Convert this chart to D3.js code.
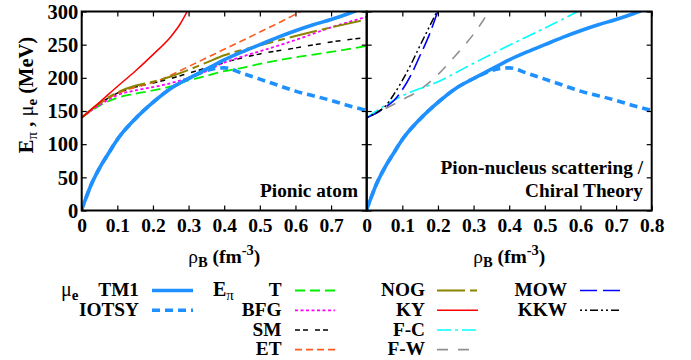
<!DOCTYPE html>
<html><head><meta charset="utf-8">
<script src="https://cdn.jsdelivr.net/npm/d3@7"></script>
</head>
<body style="margin:0;background:#fff"><svg id="c" width="691" height="360"></svg>
<script>
// ---- data ----
const xTicksLeft = [0,0.1,0.2,0.3,0.4,0.5,0.6,0.7];
const xTicksRight = [0,0.1,0.2,0.3,0.4,0.5,0.6,0.7,0.8];
const yTicks = [0,50,100,150,200,250,300];

const rhoTM1 = [0,0.002,0.005,0.01,0.025,0.05,0.075,0.1,0.15,0.2,0.25,0.3,0.35,0.4,0.45,0.5,0.55,0.6,0.65,0.7,0.75,0.77];
const muTM1  = [0,5,9,16,37,64,86,107,138,163,184,199,213,227,239,250,261,271,280,288,297,301];
const rhoIOTSY = [0,0.002,0.005,0.01,0.025,0.05,0.075,0.1,0.15,0.2,0.25,0.3,0.35,0.4,0.45,0.5,0.55,0.6,0.65,0.7,0.75,0.8];
const muIOTSY  = [0,5,9,16,37,64,86,107,138,163,184,199,211,215,207,198,189,180,173,166,158,151];

const rhoA = [0,0.05,0.1,0.15,0.2,0.25,0.3,0.35,0.4,0.45,0.5,0.6,0.7,0.8];
const eT   = [140,158,170,176,181,187,196,203,210,215,221,231,239,248];
const eBFG = [140,159,174,181,186,192,200,210,223,232,240,257,276,292];
const eSM  = [140,161,177,186,192,199,207,215,223,230,236,245,254,261];
const eNOG = [140,162,178,188,194,202,212,223,234,242,249,263,276,288];
const rhoET = [0,0.05,0.1,0.15,0.2,0.25,0.3,0.35,0.4,0.5,0.6,0.62];
const eET   = [140,161,176,186,193,204,217,230,243,269,296,302];
const rhoKY = [0,0.05,0.1,0.15,0.2,0.25,0.275,0.3];
const eKY   = [140,163,187,210,235,262,280,304];

const rhoFC = [0,0.05,0.1,0.2,0.3,0.4,0.5,0.6];
const eFC   = [140,158,173,194,222,249,275,302];
const rhoFW = [0,0.05,0.1,0.15,0.2,0.25,0.3,0.325,0.345];
const eFW   = [140,153,167,182,205,234,266,285,302];
const rhoMOW = [0,0.025,0.05,0.075,0.1,0.125,0.15,0.175,0.2];
const eMOW   = [140,146,155,165,182,205,234,264,301];
const rhoKKW = [0,0.025,0.05,0.075,0.1,0.125,0.15,0.175,0.2];
const eKKW   = [140,147,156,174,196,221,249,276,303];

// ---- layout ----
const FF = "Liberation Serif";
const svg = d3.select("#c");
const X0 = 81.7, XM = 366.7, X1 = 651.7, YT = 11.5, YB = 210.5;
const y = d3.scaleLinear().domain([0,300]).range([YB,YT]);
const xL = d3.scaleLinear().domain([0,0.8]).range([X0,XM]);
const xR = d3.scaleLinear().domain([0,0.8]).range([XM,X1]);

function T(sel){ return sel.attr("font-family",FF).attr("font-weight","bold").attr("fill","#000"); }

const styles = {
  TM1:{c:"#1e90ff",w:3.6,d:null},
  IOTSY:{c:"#1e90ff",w:3.6,d:"8,5"},
  T:{c:"#00f000",w:1.8,d:"10,5"},
  BFG:{c:"#ff00ff",w:1.8,d:"3,2.5"},
  SM:{c:"#000",w:1.5,d:"5,3,5,7"},
  ET:{c:"#ff5a1e",w:1.6,d:"7,4"},
  NOG:{c:"#8a8400",w:2,d:"28,5,7,5"},
  KY:{c:"#ff0000",w:1.5,d:null},
  FC:{c:"#00ffff",w:1.6,d:"14,4,3,4"},
  FW:{c:"#909090",w:1.6,d:"11,10"},
  MOW:{c:"#0000ff",w:1.6,d:"17,6"},
  KKW:{c:"#000",w:1.5,d:"2,3,2,3,8,3"}
};

const defs = svg.append("defs");
defs.append("clipPath").attr("id","cl").append("rect").attr("x",X0).attr("y",YT).attr("width",XM-X0).attr("height",YB-YT);
defs.append("clipPath").attr("id","cr").append("rect").attr("x",XM).attr("y",YT).attr("width",X1-XM).attr("height",YB-YT);

function drawSeries(g, xs, rho, vals, st){
  const data = rho.map((r,i)=>[r,vals[i]]);
  const line = d3.line().x(d=>xs(d[0])).y(d=>y(d[1])).curve(d3.curveMonotoneX);
  g.append("path").datum(data).attr("d",line).attr("fill","none")
    .attr("stroke",st.c).attr("stroke-width",st.w)
    .attr("stroke-dasharray",st.d).attr("stroke-linejoin","round");
}

const gL = svg.append("g").attr("clip-path","url(#cl)");
drawSeries(gL,xL,rhoA,eT,styles.T);
drawSeries(gL,xL,rhoA,eSM,styles.SM);
drawSeries(gL,xL,rhoA,eBFG,styles.BFG);
drawSeries(gL,xL,rhoET,eET,styles.ET);
drawSeries(gL,xL,rhoA,eNOG,styles.NOG);
drawSeries(gL,xL,rhoKY,eKY,styles.KY);
drawSeries(gL,xL,rhoIOTSY,muIOTSY,styles.IOTSY);
drawSeries(gL,xL,rhoTM1,muTM1,styles.TM1);

const gR = svg.append("g").attr("clip-path","url(#cr)");
drawSeries(gR,xR,rhoFW,eFW,styles.FW);
drawSeries(gR,xR,rhoFC,eFC,styles.FC);
drawSeries(gR,xR,rhoMOW,eMOW,styles.MOW);
drawSeries(gR,xR,rhoKKW,eKKW,styles.KKW);
drawSeries(gR,xR,rhoIOTSY,muIOTSY,styles.IOTSY);
drawSeries(gR,xR,rhoTM1,muTM1,styles.TM1);

// axes (gnuplot-style inward ticks)
function panelAxes(xs, labelTicks){
  const tl = 5, ticks = [0,0.1,0.2,0.3,0.4,0.5,0.6,0.7,0.8];
  const bottom = svg.append("g").attr("transform",`translate(0,${YB})`)
    .call(d3.axisBottom(xs).tickValues(ticks).tickSize(-tl).tickFormat(d=>labelTicks.includes(d)?d3.format("")(d):""));
  const top = svg.append("g").attr("transform",`translate(0,${YT})`)
    .call(d3.axisTop(xs).tickValues(ticks).tickSize(-tl).tickFormat(""));
  const left = svg.append("g").attr("transform",`translate(${xs.range()[0]},0)`)
    .call(d3.axisLeft(y).tickValues(yTicks).tickSize(-tl).tickFormat(""));
  const right = svg.append("g").attr("transform",`translate(${xs.range()[1]},0)`)
    .call(d3.axisRight(y).tickValues(yTicks).tickSize(-tl).tickFormat(""));
  [bottom,top,left,right].forEach(a=>{a.attr("font-family",FF); a.select(".domain").remove(); a.selectAll("line").attr("stroke","#000").attr("stroke-width",1.2);});
  T(bottom.selectAll("text")).attr("font-size",19.5).attr("y",7.5).attr("dy","0.71em");
  svg.append("rect").attr("x",xs.range()[0]).attr("y",YT).attr("width",xs.range()[1]-xs.range()[0]).attr("height",YB-YT)
    .attr("fill","none").attr("stroke","#000").attr("stroke-width",2);
}
panelAxes(xL,xTicksLeft);
panelAxes(xR,xTicksRight);

// y tick labels
T(svg.append("g").selectAll("text").data(yTicks).join("text")
  .attr("x",X0-3.5).attr("y",d=>y(d)).attr("dy","0.35em").attr("text-anchor","end")
  .attr("font-size",20.5).text(d=>d));

// y axis title
const yt = T(svg.append("text").attr("transform","translate(33,95) rotate(-90)").attr("text-anchor","middle").attr("font-size",20.5));
yt.append("tspan").text("E");
yt.append("tspan").text("π").attr("font-size",15).attr("dy",4).attr("font-weight","normal");
yt.append("tspan").text(" , ").attr("dy",-4);
yt.append("tspan").text("μ").attr("font-weight","normal");
yt.append("tspan").text("e").attr("font-size",15).attr("dy",4);
yt.append("tspan").text(" (MeV)").attr("dy",-4);

// x axis titles
function xTitle(cx){
  const t = T(svg.append("text").attr("x",cx).attr("y",263).attr("text-anchor","middle").attr("font-size",19.5));
  t.append("tspan").text("ρ").attr("font-weight","normal");
  t.append("tspan").text("B").attr("font-size",14.5).attr("dy",4);
  t.append("tspan").text(" (fm").attr("dy",-4);
  t.append("tspan").text("-3").attr("font-size",14.5).attr("dy",-8);
  t.append("tspan").text(")").attr("dy",8);
}
xTitle((X0+XM)/2); xTitle((XM+X1)/2);

// panel labels
T(svg.append("text").attr("x",358).attr("y",196.5).attr("text-anchor","end").attr("font-size",19.3).text("Pionic atom"));
T(svg.append("text").attr("x",643).attr("y",173.5).attr("text-anchor","end").attr("font-size",19.3).text("Pion-nucleus scattering /"));
T(svg.append("text").attr("x",643).attr("y",196.5).attr("text-anchor","end").attr("font-size",19.3).text("Chiral Theory"));

// legend
const legendNames = [["TM1","IOTSY"],["T","BFG","SM","ET"],["NOG","KY","F-C","F-W"],["MOW","KKW"]];
const legendKeys = [["TM1","IOTSY"],["T","BFG","SM","ET"],["NOG","KY","FC","FW"],["MOW","KKW"]];
const colText = [139,281.5,425,567];
const colLine = [[152,193],[295,335],[437,478],[580,620]];
const rowY = [290.5,310.3,330,349.6];
legendNames.forEach((col,ci)=>{
  col.forEach((nm,ri)=>{
    T(svg.append("text").attr("x",colText[ci]).attr("y",rowY[ri]+5.8).attr("text-anchor","end").attr("font-size",19.3).text(nm));
    const st = styles[legendKeys[ci][ri]];
    svg.append("line").attr("x1",colLine[ci][0]).attr("x2",colLine[ci][1]).attr("y1",rowY[ri]).attr("y2",rowY[ri])
      .attr("stroke",st.c).attr("stroke-width",st.w).attr("stroke-dasharray",st.d);
  });
});
const h1 = T(svg.append("text").attr("x",61).attr("y",295.5).attr("font-size",20));
h1.append("tspan").text("μ").attr("font-weight","normal");
h1.append("tspan").text("e").attr("font-size",15).attr("dy",4);
const h2 = T(svg.append("text").attr("x",213).attr("y",295.5).attr("font-size",20));
h2.append("tspan").text("E");
h2.append("tspan").text("π").attr("font-size",15).attr("dy",4).attr("font-weight","normal");
</script></body></html>
